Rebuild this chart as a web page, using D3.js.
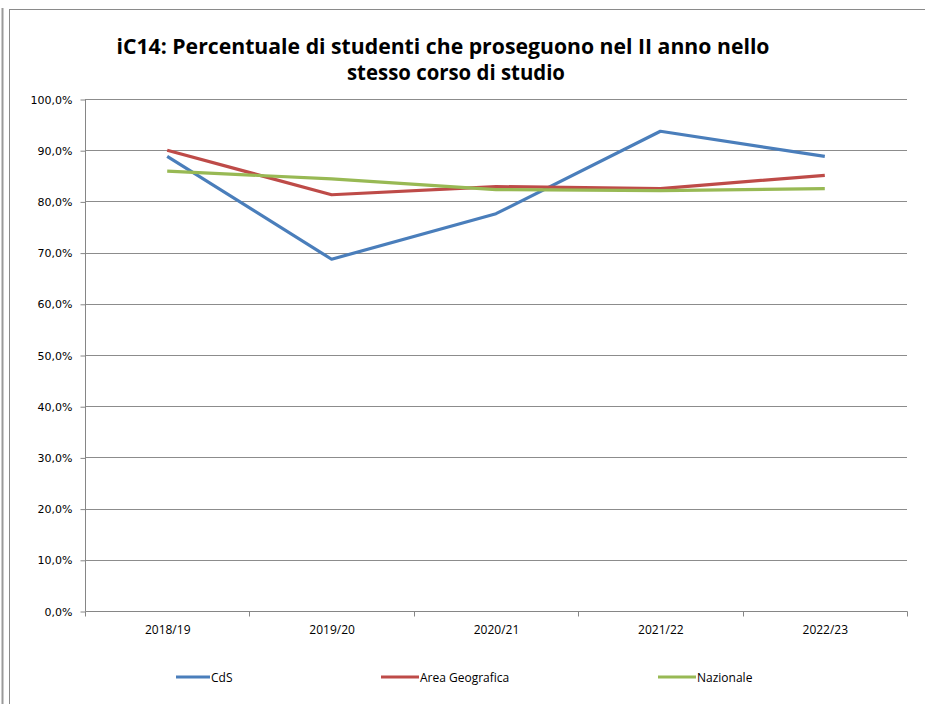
<!DOCTYPE html>
<html><head><meta charset="utf-8">
<script src="https://cdn.jsdelivr.net/npm/d3@7"></script>
<style>body{margin:0;background:#fff}svg{display:block}</style>
</head><body>
<script>
const categories = ["2018/19","2019/20","2020/21","2021/22","2022/23"];
const cds = [88.8, 68.7, 77.6, 93.7, 88.8];
const areaGeografica = [90.0, 81.3, 82.9, 82.5, 85.1];
const nazionale = [85.9, 84.4, 82.3, 82.1, 82.5];
const yTicks = [0,10,20,30,40,50,60,70,80,90,100];
const seriesNames = ["CdS","Area Geografica","Nazionale"];
const colors = ["#4a7ebb","#be4b48","#98b954"];
const titleLines = ["iC14: Percentuale di studenti che proseguono nel II anno nello","stesso corso di studio"];

const W=925,H=704;
const svg=d3.select("body").append("svg").attr("width",W).attr("height",H);
// frame lines
svg.append("line").attr("x1",2.5).attr("x2",2.5).attr("y1",8).attr("y2",H).attr("stroke","#9a9a9a").attr("stroke-width",2);
svg.append("line").attr("x1",9.5).attr("x2",9.5).attr("y1",9).attr("y2",H).attr("stroke","#8a8a8a").attr("stroke-width",1);
svg.append("line").attr("x1",9).attr("x2",W).attr("y1",9.5).attr("y2",9.5).attr("stroke","#8a8a8a").attr("stroke-width",1);

const m={left:85,right:907,top:99,bottom:611};
const x=d3.scaleBand().domain(categories).range([m.left,m.right]);
const y=d3.scaleLinear().domain([0,100]).range([m.bottom,m.top]);

// title
const tl=[{t:titleLines[0],cx:443,y:54,len:653},{t:titleLines[1],cx:456,y:80,len:218}];
svg.selectAll("text.title").data(tl).join("text").attr("class","title")
 .attr("x",d=>d.cx).attr("y",d=>d.y).attr("text-anchor","middle")
 .attr("font-family","'Liberation Sans Narrow','Open Sans',sans-serif").attr("font-weight","bold").attr("font-size",21)
 .attr("textLength",d=>d.len).attr("lengthAdjust","spacingAndGlyphs").attr("fill","#000").text(d=>d.t);

// gridlines
svg.append("g").selectAll("line").data(yTicks.filter(d=>d>0)).join("line")
 .attr("x1",m.left).attr("x2",m.right).attr("y1",d=>Math.round(y(d))+0.5).attr("y2",d=>Math.round(y(d))+0.5)
 .attr("stroke","#8c8c8c").attr("stroke-width",1);

// y axis
const yAxis=svg.append("g").attr("transform",`translate(${m.left+0.5},0.5)`)
 .call(d3.axisLeft(y).tickValues(yTicks).tickSize(5).tickPadding(8).tickFormat(d=>d3.format(".1f")(d).replace(".",",")+"%"));
yAxis.selectAll("path,line").attr("stroke","#868686");
yAxis.select("path").attr("d",`M0,${m.top}V${m.bottom}`);
yAxis.selectAll("text").attr("font-family","'DejaVu Sans',sans-serif").attr("font-size",11).attr("fill","#000");

// x axis
const xAxis=svg.append("g").attr("transform",`translate(0.5,${m.bottom+0.5})`)
 .call(d3.axisBottom(x).tickSize(0).tickPadding(14));
xAxis.select("path").attr("stroke","#868686").attr("d",`M${m.left},0H${m.right}`);
xAxis.selectAll("text").attr("font-family","'Open Sans',sans-serif").attr("font-size",12).attr("fill","#000");
const bounds=categories.map(c=>x(c)).concat([m.right]);
xAxis.append("g").selectAll("line").data(bounds).join("line")
 .attr("x1",d=>Math.round(d)).attr("x2",d=>Math.round(d)).attr("y1",0).attr("y2",5).attr("stroke","#868686");

// lines
const series=[cds,areaGeografica,nazionale];
const line=d3.line().x((d,i)=>x(categories[i])+x.bandwidth()/2).y(d=>y(d));
svg.append("g").selectAll("path").data(series).join("path")
 .attr("d",line).attr("fill","none").attr("stroke",(d,i)=>colors[i]).attr("stroke-width",3.2)
 .attr("stroke-linejoin","round");

// legend
const leg=[{x:176,tx:211},{x:381,tx:420},{x:658,tx:697}];
const lg=svg.append("g").selectAll("g").data(seriesNames).join("g");
lg.append("line").attr("x1",(d,i)=>leg[i].x).attr("x2",(d,i)=>leg[i].tx-1).attr("y1",677).attr("y2",677)
 .attr("stroke",(d,i)=>colors[i]).attr("stroke-width",3.2);
lg.append("text").attr("x",(d,i)=>leg[i].tx).attr("y",681.5).attr("font-family","'Open Sans',sans-serif")
 .attr("font-size",12).attr("fill","#000").text(d=>d);
</script>
</body></html>
